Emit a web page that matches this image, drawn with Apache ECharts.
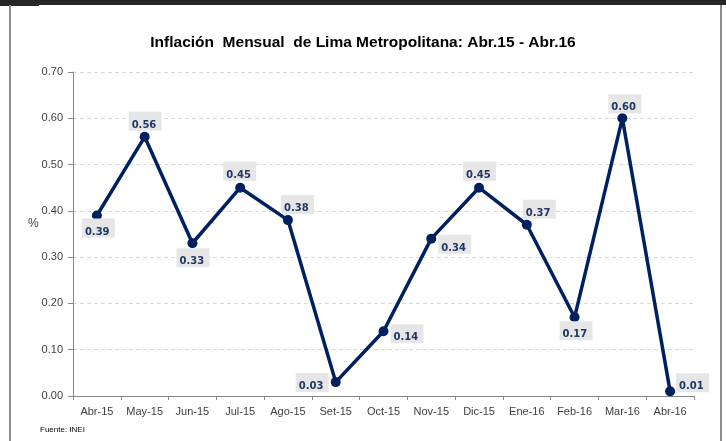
<!DOCTYPE html>
<html><head><meta charset="utf-8">
<script src="https://cdn.jsdelivr.net/npm/echarts@6/dist/echarts.min.js"></script>
<style>html,body{margin:0;padding:0;background:#fff}#c{width:726px;height:441px}</style>
</head><body><div id="c"></div>
<script>
const categories = ['Abr-15','May-15','Jun-15','Jul-15','Ago-15','Set-15','Oct-15','Nov-15','Dic-15','Ene-16','Feb-16','Mar-16','Abr-16'];
const inflation = [0.39,0.56,0.33,0.45,0.38,0.03,0.14,0.34,0.45,0.37,0.17,0.60,0.01];
const yTicks = ['0.00','0.10','0.20','0.30','0.40','0.50','0.60','0.70'];
// label box offsets (top-left of box relative to point), styling only
const labelOffsets = [[-15,3],[-16,-25],[-16,5],[-17,-26],[-7,-25],[-40,-9],[7,-7],[7,-4],[-16,-26],[-4,-25],[-15,4],[-14,-24],[6,-18]];

const chart = echarts.init(document.getElementById('c'), null, {renderer:'canvas'});
const navy = '#002060';
chart.setOption({
  animation:false,
  backgroundColor:'#fff',
  title:{
    text:'Inflación  Mensual  de Lima Metropolitana: Abr.15 - Abr.16',
    left:'center', top:30,
    textStyle:{fontFamily:'Liberation Sans', fontWeight:'bold', fontSize:15.5, color:'#000'}
  },
  grid:{left:73, right:32, top:72, bottom:45},
  xAxis:{
    type:'category', data:categories,
    axisLine:{lineStyle:{color:'#868686', width:1}},
    axisTick:{show:true, length:4, lineStyle:{color:'#868686'}},
    axisLabel:{color:'#404040', fontSize:11, fontFamily:'Liberation Sans', margin:10}
  },
  yAxis:{
    type:'value', min:0, max:0.7, interval:0.1,
    axisLine:{show:true, lineStyle:{color:'#868686'}},
    axisTick:{show:true, length:5, lineStyle:{color:'#868686'}},
    axisLabel:{color:'#404040', fontSize:11, fontFamily:'Liberation Sans', margin:10,
      formatter:(v)=>yTicks[Math.round(v*10)]},
    splitLine:{lineStyle:{color:'#d9d9d9', type:[4,3], width:1}}
  },
  series:[{
    type:'line', data:inflation.map((v,i)=>({
      value:v,
      label:{offset:labelOffsets[i]}
    })),
    lineStyle:{color:navy, width:3.5},
    itemStyle:{color:navy},
    symbol:'circle', symbolSize:10,
    label:{
      show:true, position:'inside', align:'left', verticalAlign:'top',
      formatter:(p)=>p.value.toFixed(2),
      color:'#1f3864', fontWeight:'bold', fontSize:10, fontFamily:'DejaVu Sans',
      backgroundColor:'#e6e6e6', padding:[8,4,0,3], width:26, height:11, lineHeight:11
    },
    z:3
  }],
  graphic:[
    {type:'rect', shape:{x:0,y:0,width:726,height:5}, style:{fill:'#262626'}, silent:true},
    {type:'rect', shape:{x:0,y:0,width:39,height:6}, style:{fill:'#262626'}, silent:true},
    {type:'rect', shape:{x:9,y:5,width:2,height:436}, style:{fill:'#8c8c8c'}, silent:true},
    {type:'rect', shape:{x:720,y:5,width:2,height:436}, style:{fill:'#8c8c8c'}, silent:true},
    {type:'text', left:28, top:218, style:{text:'%', fill:'#404040', font:'12px "Liberation Sans"'}},
    {type:'text', left:40, top:426, style:{text:'Fuente: INEI', fill:'#000', font:'8px "Liberation Sans"'}}
  ]
});
</script></body></html>
